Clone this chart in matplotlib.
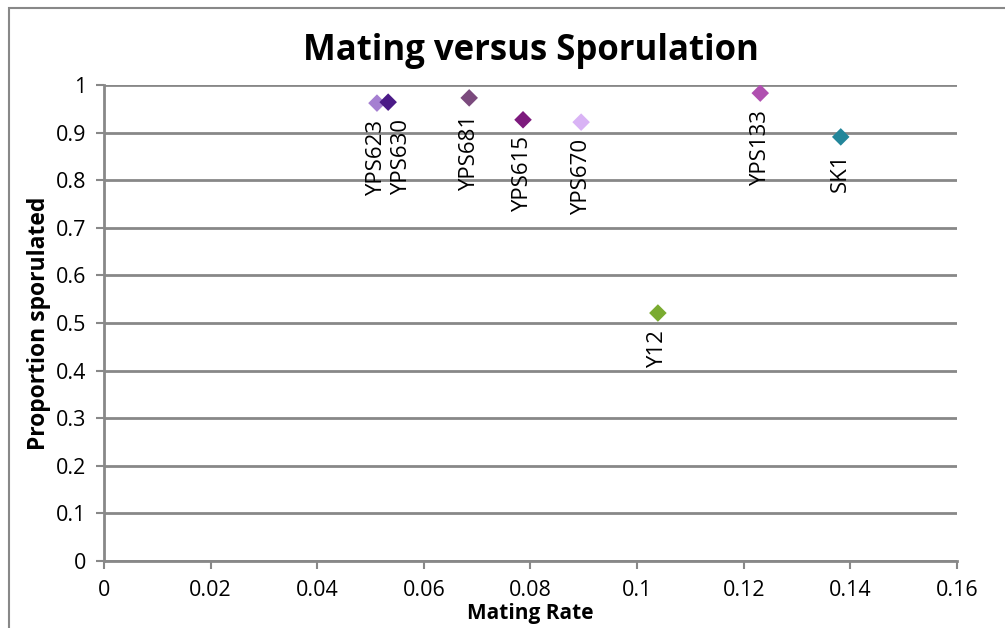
import matplotlib.pyplot as plt
from matplotlib.patches import Rectangle

# Strains: mating rate vs proportion sporulated
strains = ['YPS623', 'YPS630', 'YPS681', 'YPS615', 'YPS670', 'Y12', 'YPS133', 'SK1']
mating_rate = [0.0512, 0.0533, 0.0685, 0.0786, 0.0895, 0.1039, 0.1231, 0.1382]
sporulated = [0.962, 0.964, 0.973, 0.927, 0.922, 0.521, 0.983, 0.891]
colores = ['#a57fd1', '#4b1a87', '#7b4a7d', '#7d1a7d', '#d9b3f5', '#7aab30', '#b050b0', '#23869a']

plt.rcParams['font.family'] = ['Open Sans', 'DejaVu Sans']

fig = plt.figure(figsize=(10.05, 6.28), dpi=100)
ax = fig.add_axes([0.1035, 0.1067, 0.8487, 0.7579])

# marco gris alrededor de la figura
fig.patches.append(Rectangle((0.009, -0.1), 1.2, 1.088, transform=fig.transFigure,
                             fill=False, edgecolor='#888888', linewidth=1.5))

# desplazamiento horizontal de algunas etiquetas para que no se solapen
desplaz = {'YPS630': 10}

for i in range(len(strains)):
    ax.scatter(mating_rate[i], sporulated[i], marker='D', s=80, color=colores[i],
               edgecolors='none', zorder=3)
    ax.annotate(strains[i], (mating_rate[i], sporulated[i]),
                xytext=(desplaz.get(strains[i], 0), -12),
                textcoords='offset points', rotation=90, ha='center', va='top',
                fontsize=16, zorder=4)

ax.set_xlim(0, 0.16)
ax.set_ylim(0, 1)
ax.set_xticks([0, 0.02, 0.04, 0.06, 0.08, 0.1, 0.12, 0.14, 0.16])
ax.set_xticklabels(['0', '0.02', '0.04', '0.06', '0.08', '0.1', '0.12', '0.14', '0.16'])
ax.set_yticks([i / 10 for i in range(11)])
ax.set_yticklabels(['0', '0.1', '0.2', '0.3', '0.4', '0.5', '0.6', '0.7', '0.8', '0.9', '1'])
ax.tick_params(axis='both', labelsize=15.5, color='#888888', width=1.5, length=6)
ax.tick_params(axis='x', pad=8)
ax.tick_params(axis='y', pad=7)
ax.grid(axis='y', color='#888888', linewidth=2)
ax.set_axisbelow(True)
for lado in ['top', 'right']:
    ax.spines[lado].set_visible(False)
for lado in ['left', 'bottom']:
    ax.spines[lado].set_color('#888888')
    ax.spines[lado].set_linewidth(2)

ax.set_title('Mating versus Sporulation', fontsize=25, fontweight='bold', pad=18)
ax.set_xlabel('Mating Rate', fontsize=15, fontweight='bold', labelpad=1)
ax.set_ylabel('Proportion sporulated', fontsize=16.5, fontweight='bold', labelpad=3)

plt.savefig('out.png', dpi=100)
